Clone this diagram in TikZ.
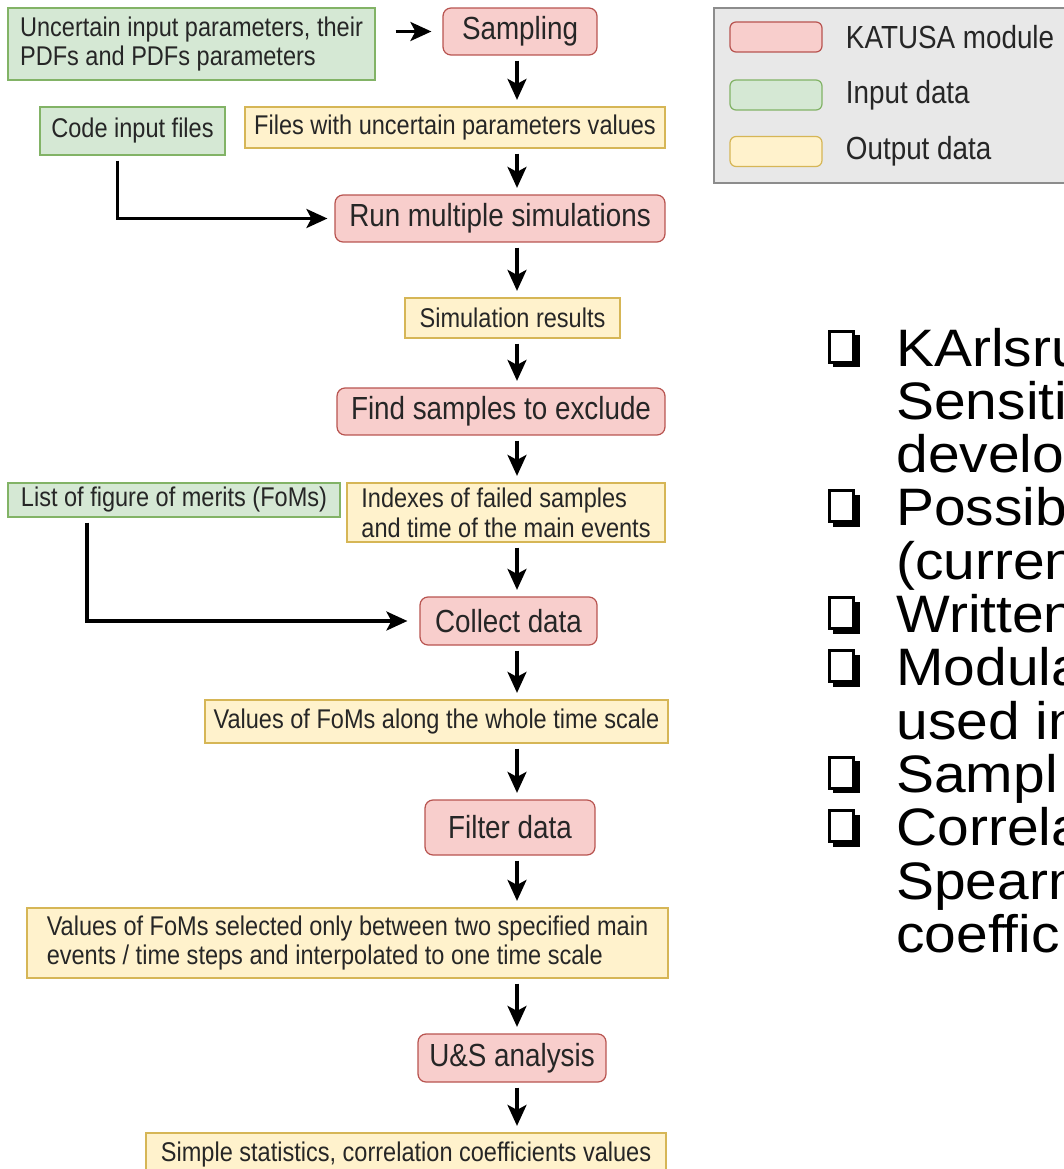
\documentclass[tikz,border=0pt]{standalone}
\usepackage{fontspec}
\setmainfont{Liberation Sans}
\newfontfamily\flowfont[FakeStretch=0.87]{Liberation Sans}
\newfontfamily\listfont[FakeStretch=1.08]{Liberation Sans}
\usetikzlibrary{arrows.meta,positioning}

\definecolor{modfill}{HTML}{F8CECC}
\definecolor{modline}{HTML}{B85450}
\definecolor{infill}{HTML}{D5E8D4}
\definecolor{inline}{HTML}{82B366}
\definecolor{outfill}{HTML}{FFF2CC}
\definecolor{outline}{HTML}{D6B656}
\definecolor{legendgrey}{HTML}{E8E8E8}

\begin{document}
\begin{tikzpicture}[x=0.02cm, y=-0.02cm,
  box/.style={draw, line width=0.7pt, inner sep=0pt, text=black!85},
  module/.style={box, fill=modfill, draw=modline, rounded corners=0.16cm, font=\flowfont\fontsize{18.2}{21}\selectfont},
  indata/.style={box, fill=infill, draw=inline, font=\flowfont\fontsize{15.4}{17}\selectfont},
  outdata/.style={box, fill=outfill, draw=outline, font=\flowfont\fontsize{15.4}{17}\selectfont},
  keybox/.style={draw, line width=0.7pt, rounded corners=0.12cm, minimum width=1.84cm, minimum height=0.6cm, inner sep=0pt},
  keytext/.style={inner sep=0pt, text=black!85, font=\flowfont\fontsize{18.2}{21}\selectfont},
  item/.style={inner sep=0pt, anchor=base west, font=\listfont\fontsize{30}{36}\selectfont},
  flow/.style={-{Stealth[length=0.42cm, width=0.38cm, inset=0.1cm]}, line width=0.065cm, shorten <=0.1cm, shorten >=0.13cm}
]
\useasboundingbox (0,0) rectangle (1064,1169);
%\draw [color=gray, very thin, step=1cm] (0,0) grid (1064,1169);

% flow chart
\node [indata, minimum width=7.34cm, minimum height=1.44cm, align=left] (params) at (191.5,44) {Uncertain input parameters, their\\PDFs and PDFs parameters};
\node [module, minimum width=3.08cm, minimum height=0.94cm] (sampling) at (520,31.5) {Sampling};
\node [indata, minimum width=3.7cm, minimum height=0.96cm] (code) at (132.5,131) {Code input files};
\node [outdata, minimum width=8.4cm, minimum height=0.82cm] (files) at (455,127.5) {Files with uncertain parameters values};
\node [module, minimum width=6.6cm, minimum height=0.94cm] (run) at (500,218.5) {Run multiple simulations};
\node [outdata, minimum width=4.3cm, minimum height=0.8cm] (simres) at (512.5,318) {Simulation results};
\node [module, minimum width=6.56cm, minimum height=0.94cm] (find) at (501,411.5) {Find samples to exclude};
\node [indata, minimum width=6.64cm, minimum height=0.68cm] (foms) at (174,500) {List of figure of merits (FoMs)};
\node [outdata, minimum width=6.36cm, minimum height=1.18cm, align=left] (failed) at (506,512.5) {Indexes of failed samples\\and time of the main events};
\node [module, minimum width=3.54cm, minimum height=0.96cm] (collect) at (508.5,621) {Collect data};
\node [outdata, minimum width=9.26cm, minimum height=0.86cm] (whole) at (436.5,721.5) {Values of FoMs along the whole time scale};
\node [module, minimum width=3.4cm, minimum height=1.1cm] (filter) at (510,827.5) {Filter data};
\node [outdata, minimum width=12.82cm, minimum height=1.4cm, align=left] (selected) at (347.5,943) {Values of FoMs selected only between two specified main\\events / time steps and interpolated to one time scale};
\node [module, minimum width=3.76cm, minimum height=0.96cm] (analysis) at (512,1058) {U\&S analysis};
\node [outdata, minimum width=10.4cm, minimum height=0.84cm] (stats) at (406,1154) {Simple statistics, correlation coefficients values};

\coordinate (spine) at (517,0);
\draw [flow, shorten <=0.4cm, shorten >=0.22cm] (params.east |- sampling.west) -- (sampling.west);
\draw [flow] (sampling.south -| spine) -- (files.north -| spine);
\draw [flow] (files.south -| spine) -- (run.north -| spine);
\draw [flow] (run.south -| spine) -- (simres.north -| spine);
\draw [flow] (simres.south -| spine) -- (find.north -| spine);
\draw [flow] (find.south -| spine) -- (failed.north -| spine);
\draw [flow] (failed.south -| spine) -- (collect.north -| spine);
\draw [flow] (collect.south -| spine) -- (whole.north -| spine);
\draw [flow] (whole.south -| spine) -- (filter.north -| spine);
\draw [flow] (filter.south -| spine) -- (selected.north -| spine);
\draw [flow] (selected.south -| spine) -- (analysis.north -| spine);
\draw [flow] (analysis.south -| spine) -- (stats.north -| spine);
\draw [flow, shorten >=0.14cm] ([xshift=-0.3cm]code.south) |- (run.west);
\draw [flow, shorten >=0.24cm] ([xshift=-1.74cm]foms.south) |- (collect.west);

% legend
\draw [fill=legendgrey, draw=black!45, line width=0.6pt] (714,8) rectangle (1080,183);
\node [keybox, fill=modfill, draw=modline] (keymod) at (776,37) {};
\node [keybox, fill=infill, draw=inline] (keyin) at (776,95) {};
\node [keybox, fill=outfill, draw=outline] (keyout) at (776,151.5) {};
\node [keytext, right=0.46cm of keymod] (keymodtext) {KATUSA module};
\node [keytext, right=0.46cm of keyin] (keyintext) {Input data};
\node [keytext, right=0.46cm of keyout] (keyouttext) {Output data};

% bullet list, cut by the right edge
\begin{scope}
\clip (700,300) rectangle (1064,1000);
\foreach \txt [count=\i] in {KArlsru, Sensiti, develo, Possib, {(curren}, Written, Modula, used in, Sampl, Correla, Spearm, coeffic}
  \node [item] (line\i) at (896, {366+53.3*(\i-1)}) {\txt};
\foreach \i in {1,4,6,7,9,10} {
  \pgfmathsetmacro\yb{366+53.3*(\i-1)}
  \draw [line width=0.06cm] (829,\yb-35) rectangle (853,\yb-4);
  \fill (853,\yb-31) rectangle (860,\yb+1);
  \fill (833,\yb-4) rectangle (860,\yb+1);
}
\end{scope}
\end{tikzpicture}
\end{document}
